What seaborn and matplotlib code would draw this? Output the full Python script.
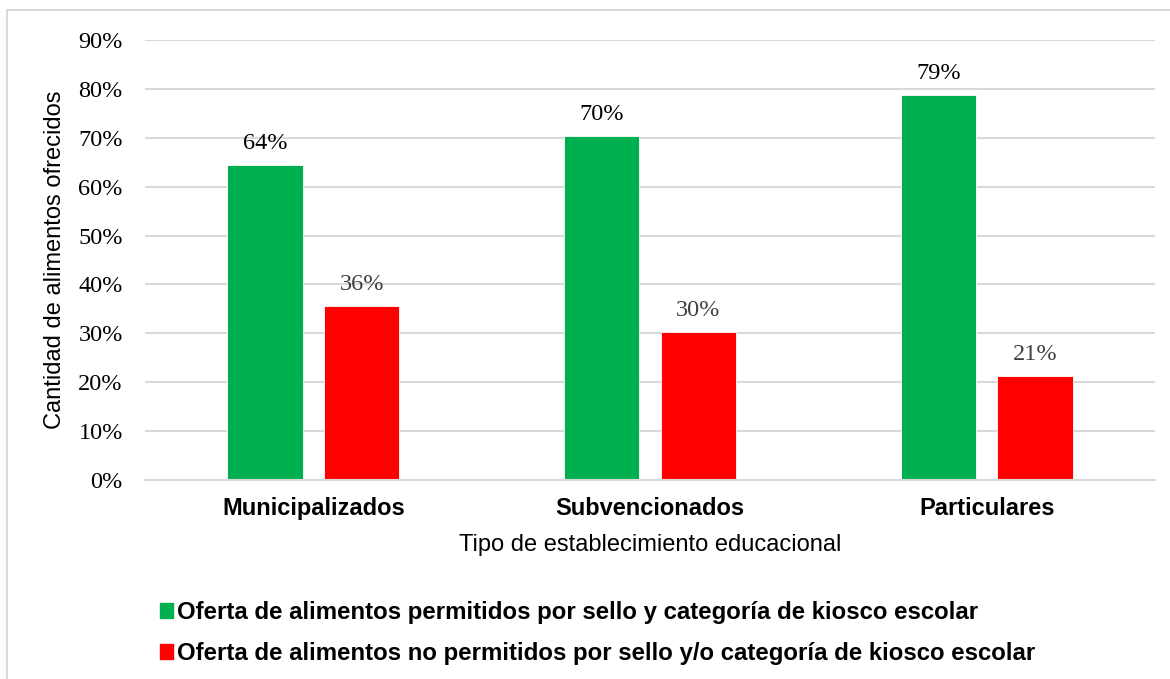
import matplotlib
matplotlib.use('Agg')
import matplotlib.pyplot as plt
import matplotlib.patches as mpatches
from matplotlib.ticker import PercentFormatter
import pandas as pd
import seaborn as sns

# ── Data ────────────────────────────────────────────────────────────────────
tipos      = ['Municipalizados', 'Subvencionados', 'Particulares']
permitidos = [64.4, 70.4, 78.7]
no_permit  = [35.6, 30.3, 21.3]
serie_ok   = 'Oferta de alimentos permitidos por sello y categoría de kiosco escolar'
serie_no   = 'Oferta de alimentos no permitidos por sello y/o categoría de kiosco escolar'
yticks     = [0, 10, 20, 30, 40, 50, 60, 70, 80, 90]

df = pd.DataFrame({
    'tipo':  tipos * 2,
    'valor': permitidos + no_permit,
    'serie': [serie_ok] * 3 + [serie_no] * 3,
})

# ── Style ───────────────────────────────────────────────────────────────────
sns.set_theme(style='white')
plt.rcParams['font.family'] = ['Liberation Sans', 'DejaVu Sans']
plt.rcParams.update({'text.color': 'black', 'axes.labelcolor': 'black',
                     'xtick.color': 'black', 'ytick.color': 'black'})
GREEN, RED, GRID = '#00b050', '#ff0000', '#d9d9d9'
SERIF = ['Liberation Serif', 'DejaVu Serif']

fig = plt.figure(figsize=(11.7, 6.79), dpi=100)
ax = fig.add_axes([145 / 1170, 1 - 480 / 679, 1010 / 1170, 440 / 679])

sns.barplot(data=df, x='tipo', y='valor', hue='serie', order=tipos,
            hue_order=[serie_ok, serie_no], palette=[GREEN, RED], saturation=1,
            width=0.574, gap=0.22, ax=ax, legend=False,
            edgecolor='white', linewidth=0.6)

# value labels
for cont, col in zip(ax.containers, ['#000000', '#404040']):
    ax.bar_label(cont, labels=[f'{v:.0f}%' for v in cont.datavalues],
                 padding=8, fontsize=17.5, color=col, family=SERIF)

ax.set_ylim(0, 90)
ax.set_yticks(yticks)
ax.yaxis.set_major_formatter(PercentFormatter(decimals=0))
for t in ax.get_yticklabels():
    t.set_family(SERIF)
ax.tick_params(axis='y', labelsize=17.5, length=0, pad=16)
ax.tick_params(axis='x', labelsize=17, length=0, pad=12)
for t in ax.get_xticklabels():
    t.set_fontweight('bold')

ax.grid(axis='y', color=GRID, linewidth=1.5)
ax.set_axisbelow(True)
for s in ['top', 'right', 'left']:
    ax.spines[s].set_visible(False)
ax.spines['bottom'].set_color(GRID)
ax.spines['bottom'].set_linewidth(1.5)

ax.set_xlabel('Tipo de establecimiento educacional', fontsize=17, labelpad=10)
ax.set_ylabel('Cantidad de alimentos ofrecidos', fontsize=17, labelpad=9)

# outer chart frame (cut off at right and bottom)
fig.patches.append(mpatches.Rectangle((7 / 1170, -0.2), 1.2, 1.2 - 10 / 679,
                                      transform=fig.transFigure, fill=False,
                                      edgecolor=GRID, linewidth=1.5))

# legend
handles = [mpatches.Patch(color=GREEN, label=serie_ok),
           mpatches.Patch(color=RED, label=serie_no)]
fig.legend(handles=handles, loc='upper left', bbox_to_anchor=(148 / 1170, 1 - 589 / 679),
           frameon=False, handlelength=0.55, handleheight=0.55, handletextpad=0.15,
           labelspacing=0.75, borderpad=0,
           prop={'family': ['Liberation Sans', 'DejaVu Sans'], 'weight': 'bold', 'size': 17.3})

fig.savefig('out.png', dpi=100)
